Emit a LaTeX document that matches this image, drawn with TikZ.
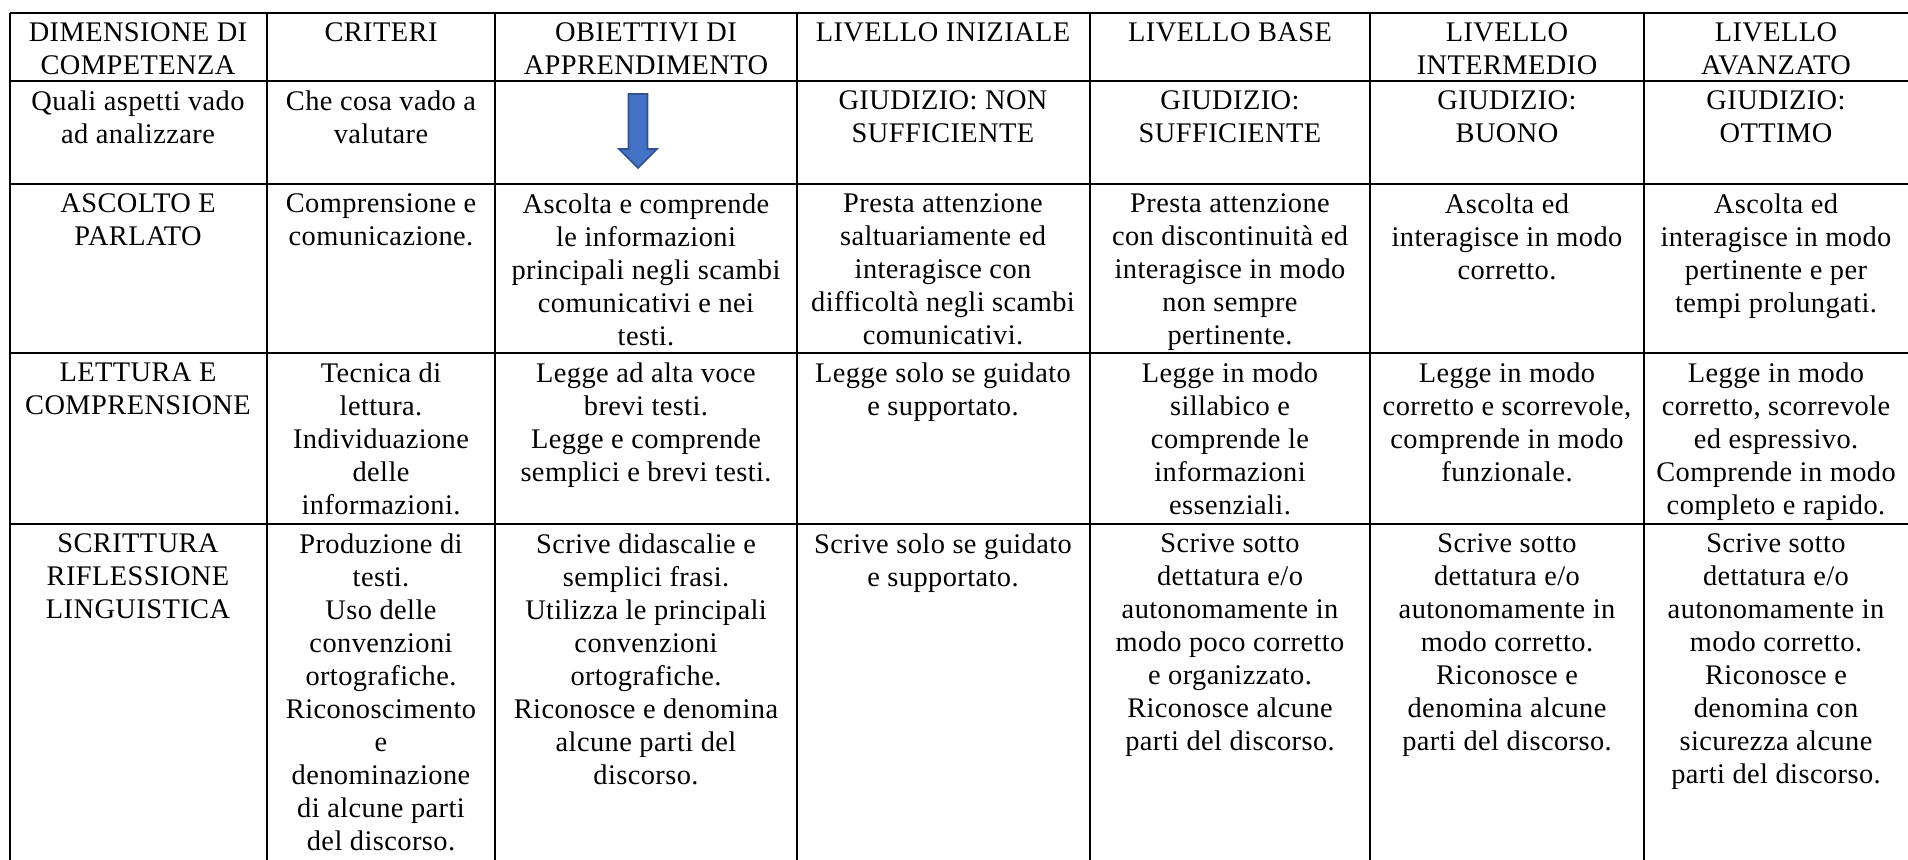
\documentclass[tikz,border=0pt]{standalone}
\usepackage{fontspec}
\setmainfont[LetterSpace=1.5]{Liberation Serif}
\usepackage{tikz}
\usetikzlibrary{shapes,arrows,positioning,calc}
\usepackage{xcolor}
\definecolor{arrowblue}{HTML}{4472C4}
\definecolor{arrowedge}{HTML}{2F528F}

\begin{document}
\begin{tikzpicture}[
    x=0.5pt, y=-0.5pt,
    cell/.style={align=center, anchor=north, inner sep=0pt, font=\fontsize{14.2}{16.5}\selectfont},
    rule/.style={line width=1.3pt, black}
]
    \useasboundingbox (0,0) rectangle (1908,859);

    % grid
    \draw[rule] (10,13) -- (1910,13);
    \draw[rule] (10,81) -- (1910,81);
    \draw[rule] (10,184) -- (1910,184);
    \draw[rule] (10,353) -- (1910,353);
    \draw[rule] (10,524) -- (1910,524);
    \draw[rule] (10,13) -- (10,862);
    \draw[rule] (267,13) -- (267,862);
    \draw[rule] (495,13) -- (495,862);
    \draw[rule] (797,13) -- (797,862);
    \draw[rule] (1090,13) -- (1090,862);
    \draw[rule] (1370,13) -- (1370,862);
    \draw[rule] (1644,13) -- (1644,862);

    % header
    \node[cell] (hdim) at (138,22) {DIMENSIONE DI\\COMPETENZA};
    \node[cell] (hcrit) at (381,22) {CRITERI};
    \node[cell] (hobj) at (646,22) {OBIETTIVI DI\\APPRENDIMENTO};
    \node[cell] (hini) at (943,22) {LIVELLO INIZIALE};
    \node[cell] (hbase) at (1230,22) {LIVELLO BASE};
    \node[cell] (hint) at (1507,22) {LIVELLO\\INTERMEDIO};
    \node[cell] (hav) at (1776,22) {LIVELLO\\AVANZATO};

    % second row
    \node[cell] (qdim) at (138,90) {Quali aspetti vado\\ad analizzare};
    \node[cell] (qcrit) at (381,90) {Che cosa vado a\\valutare};
    \coordinate (down) at (638,94);
    \draw[arrowedge, fill=arrowblue, line width=0.8pt] (down) ++(-9.5,0) -- ++(19,0) -- ++(0,55) -- ++(9.5,0)
        -- ++(-19,19) -- ++(-19,-19) -- ++(9.5,0) -- cycle;
    \node[cell] (gini) at (943,90) {GIUDIZIO: NON\\SUFFICIENTE};
    \node[cell] (gbase) at (1230,90) {GIUDIZIO:\\SUFFICIENTE};
    \node[cell] (gint) at (1507,90) {GIUDIZIO:\\BUONO};
    \node[cell] (gav) at (1776,90) {GIUDIZIO:\\OTTIMO};

    % ascolto e parlato
    \node[cell] (adim) at (138,193) {ASCOLTO E\\PARLATO};
    \node[cell] (acrit) at (381,193) {Comprensione e\\comunicazione.};
    \node[cell] (aobj) at (646,193) {Ascolta e comprende\\le informazioni\\principali negli scambi\\comunicativi e nei\\testi.};
    \node[cell] (aini) at (943,193) {Presta attenzione\\saltuariamente ed\\interagisce con\\difficoltà negli scambi\\comunicativi.};
    \node[cell] (abase) at (1230,193) {Presta attenzione\\con discontinuità ed\\interagisce in modo\\non sempre\\pertinente.};
    \node[cell] (aint) at (1507,193) {Ascolta ed\\interagisce in modo\\corretto.};
    \node[cell] (aav) at (1776,193) {Ascolta ed\\interagisce in modo\\pertinente e per\\tempi prolungati.};

    % lettura e comprensione
    \node[cell] (ldim) at (138,362) {LETTURA E\\COMPRENSIONE};
    \node[cell] (lcrit) at (381,362) {Tecnica di\\lettura.\\Individuazione\\delle\\informazioni.};
    \node[cell] (lobj) at (646,362) {Legge ad alta voce\\brevi testi.\\Legge e comprende\\semplici e brevi testi.};
    \node[cell] (lini) at (943,362) {Legge solo se guidato\\e supportato.};
    \node[cell] (lbase) at (1230,362) {Legge in modo\\sillabico e\\comprende le\\informazioni\\essenziali.};
    \node[cell] (lint) at (1507,362) {Legge in modo\\corretto e scorrevole,\\comprende in modo\\funzionale.};
    \node[cell] (lav) at (1776,362) {Legge in modo\\corretto, scorrevole\\ed espressivo.\\Comprende in modo\\completo e rapido.};

    % scrittura
    \node[cell] (sdim) at (138,533) {SCRITTURA\\RIFLESSIONE\\LINGUISTICA};
    \node[cell] (scrit) at (381,533) {Produzione di\\testi.\\Uso delle\\convenzioni\\ortografiche.\\Riconoscimento\\e\\denominazione\\di alcune parti\\del discorso.};
    \node[cell] (sobj) at (646,533) {Scrive didascalie e\\semplici frasi.\\Utilizza le principali\\convenzioni\\ortografiche.\\Riconosce e denomina\\alcune parti del\\discorso.};
    \node[cell] (sini) at (943,533) {Scrive solo se guidato\\e supportato.};
    \node[cell] (sbase) at (1230,533) {Scrive sotto\\dettatura e/o\\autonomamente in\\modo poco corretto\\e organizzato.\\Riconosce alcune\\parti del discorso.};
    \node[cell] (sint) at (1507,533) {Scrive sotto\\dettatura e/o\\autonomamente in\\modo corretto.\\Riconosce e\\denomina alcune\\parti del discorso.};
    \node[cell] (sav) at (1776,533) {Scrive sotto\\dettatura e/o\\autonomamente in\\modo corretto.\\Riconosce e\\denomina con\\sicurezza alcune\\parti del discorso.};
\end{tikzpicture}
\end{document}
